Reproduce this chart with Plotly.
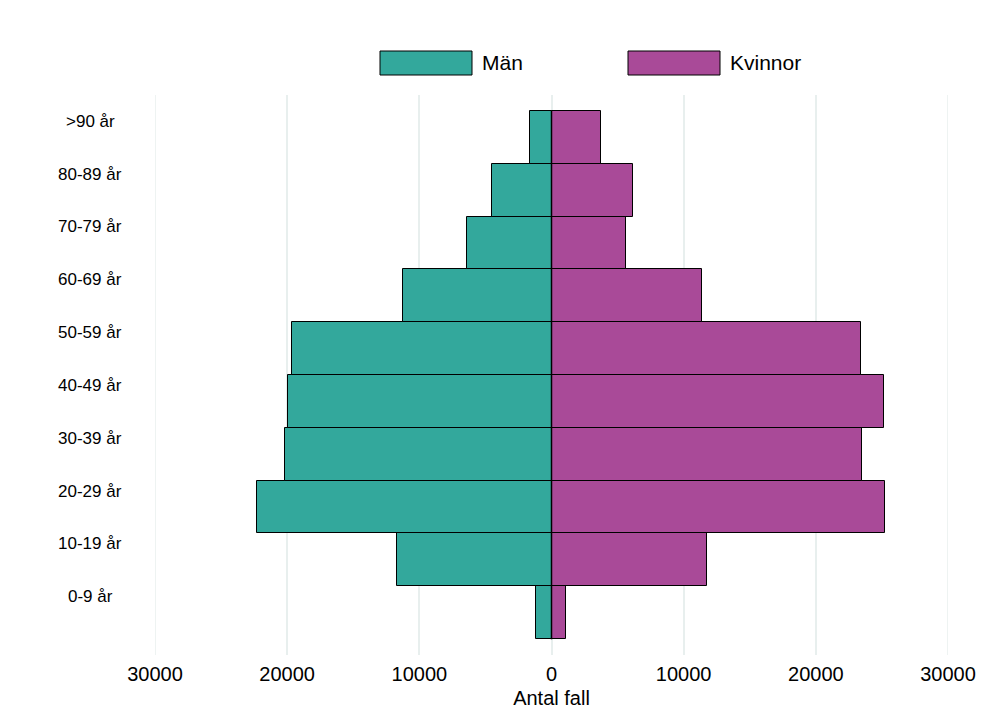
import plotly.graph_objects as go

groups = ["0-9 år", "10-19 år", "20-29 år", "30-39 år", "40-49 år",
          "50-59 år", "60-69 år", "70-79 år", "80-89 år", ">90 år"]
men = [1210, 11720, 22300, 20200, 19900, 19670, 11200, 6430, 4540, 1660]
women = [1130, 11800, 25270, 23530, 25190, 23450, 11350, 5670, 6130, 3780]
tick_vals = [-30000, -20000, -10000, 0, 10000, 20000, 30000]
tick_text = ["30000", "20000", "10000", "0", "10000", "20000", "30000"]
green = "#33a89c"
purple = "#a94a98"

fig = go.Figure()
fig.add_trace(go.Bar(y=groups, x=[-v for v in men], orientation="h", name="Män",
                     marker=dict(color=green, line=dict(color="black", width=1)),
                     customdata=men, hovertemplate="%{y}: %{customdata}<extra>Män</extra>"))
fig.add_trace(go.Bar(y=groups, x=women, orientation="h", name="Kvinnor",
                     marker=dict(color=purple, line=dict(color="black", width=1))))

# zero line only over the bars
fig.add_shape(type="line", x0=0, x1=0, y0=-0.5, y1=9.5, xref="x", yref="y",
              line=dict(color="black", width=1.5))

# outer gridlines (plotly skips them at the axis edges)
for xv in (-30000, 30000):
    fig.add_shape(type="line", x0=xv, x1=xv, y0=0, y1=1, xref="x", yref="paper",
                  line=dict(color="#e8efee", width=1.5), layer="below")

# category labels: centred, sitting a bit above the bar centre like the original
for g in groups:
    fig.add_annotation(xref="paper", yref="y", x=(90 - 155) / 793, y=g, text=g,
                       showarrow=False, xanchor="center", yshift=16,
                       font=dict(size=17))

# legend drawn by hand (large boxes); positions in screen px, plot area 155..948 x 95..655
for x0, col, name in [(380, green, "Män"), (628, purple, "Kvinnor")]:
    fig.add_shape(type="rect", xref="paper", yref="paper",
                  x0=(x0 - 155) / 793, x1=(x0 + 92 - 155) / 793,
                  y0=(655 - 75) / 560, y1=(655 - 51) / 560,
                  fillcolor=col, line=dict(color="black", width=1))
    fig.add_annotation(xref="paper", yref="paper", x=(x0 + 100 - 155) / 793,
                       y=(655 - 63) / 560, text=name, showarrow=False,
                       xanchor="left", yanchor="middle", font=dict(size=21))

# page body has an 8px margin, so the figure is a bit smaller than the window
fig.update_layout(
    width=969, height=701, barmode="overlay", bargap=0, showlegend=False,
    plot_bgcolor="white", paper_bgcolor="white",
    font=dict(family="Liberation Sans, Arial", color="black"),
    margin=dict(l=147, r=29, t=87, b=54, autoexpand=False),
    xaxis=dict(range=[-30000, 30000], tickvals=tick_vals, ticktext=tick_text,
               showgrid=True, gridcolor="#e8efee", gridwidth=1.5, zeroline=False,
               automargin=False, tickfont=dict(size=20), ticklabelstandoff=5,
               title=dict(text="Antal fall", font=dict(size=20), standoff=6)),
    yaxis=dict(range=[-0.8, 9.8], showticklabels=False, showgrid=False,
               automargin=False),
)
fig.write_html("out.html")
